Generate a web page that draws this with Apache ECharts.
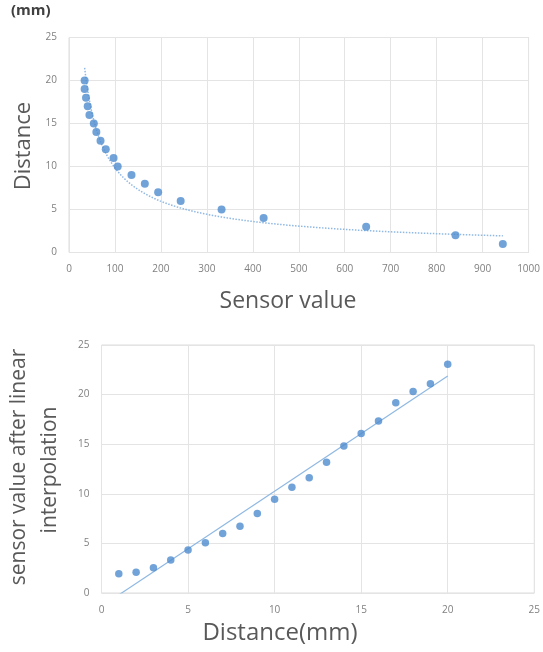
<!DOCTYPE html>
<html>
<head>
<meta charset="utf-8">
<script src="https://cdn.jsdelivr.net/npm/echarts@6/dist/echarts.min.js"></script>
<style>
  html, body { margin: 0; padding: 0; background: #fff; }
  #chart { width: 543px; height: 652px; }
</style>
</head>
<body>
<div id="chart"></div>
<script>
// Calibration: raw sensor readings versus measured distance (mm)
const sensorValues = [34, 34, 37, 40.7, 44.5, 54, 59.5, 68.6, 80, 97, 106, 136, 165, 194, 243, 332, 423.5, 646.6, 841, 944];
const distancesMm = [20, 19, 18, 17, 16, 15, 14, 13, 12, 11, 10, 9, 8, 7, 6, 5, 4, 3, 2, 1];

// After linear interpolation: distance (mm) versus corrected sensor value
const interpDistances = [1, 2, 3, 4, 5, 6, 7, 8, 9, 10, 11, 12, 13, 14, 15, 16, 17, 18, 19, 20];
const interpValues = [1.95, 2.08, 2.55, 3.32, 4.33, 5.07, 6.0, 6.74, 8.02, 9.46, 10.67, 11.61, 13.19, 14.83, 16.07, 17.35, 19.19, 20.3, 21.1, 23.05];

const topXTicks = [0, 100, 200, 300, 400, 500, 600, 700, 800, 900, 1000];
const topYTicks = [0, 5, 10, 15, 20, 25];
const bottomXTicks = [0, 5, 10, 15, 20, 25];
const bottomYTicks = [0, 5, 10, 15, 20, 25];

// Least-squares fits used for the trendlines
function linearFit(xs, ys) {
  const n = xs.length;
  const mx = xs.reduce((a, b) => a + b, 0) / n;
  const my = ys.reduce((a, b) => a + b, 0) / n;
  let sxy = 0, sxx = 0;
  for (let i = 0; i < n; i++) {
    sxy += (xs[i] - mx) * (ys[i] - my);
    sxx += (xs[i] - mx) * (xs[i] - mx);
  }
  const slope = sxy / sxx;
  return { slope, intercept: my - slope * mx };
}
function powerFit(xs, ys) {
  const f = linearFit(xs.map(Math.log), ys.map(Math.log));
  return { a: Math.exp(f.intercept), b: f.slope };
}

const pf = powerFit(sensorValues, distancesMm);
const xMin = Math.min(...sensorValues), xMax = Math.max(...sensorValues);
const powerTrend = [];
for (let i = 0; i <= 300; i++) {
  const x = xMin + (xMax - xMin) * i / 300;
  powerTrend.push([x, pf.a * Math.pow(x, pf.b)]);
}

const lf = linearFit(interpDistances, interpValues);
const d0 = interpDistances[0], d1 = interpDistances[interpDistances.length - 1];
const linearTrend = [[d0, lf.intercept + lf.slope * d0], [d1, lf.intercept + lf.slope * d1]];

const FONT = 'Open Sans';
const tickLabel = { color: '#808080', fontSize: 10, fontFamily: FONT, formatter: v => String(v) };
const gridLine = { show: true, lineStyle: { color: '#e4e4e4', width: 1 } };

function valueAxis(gridIndex, ticks, margin) {
  return {
    type: 'value', gridIndex,
    min: ticks[0], max: ticks[ticks.length - 1], interval: ticks[1] - ticks[0],
    axisLine: { show: false }, axisTick: { show: false },
    axisLabel: Object.assign({}, tickLabel, { margin }),
    splitLine: gridLine
  };
}

const chart = echarts.init(document.getElementById('chart'), null, { renderer: 'canvas' });
chart.setOption({
  animation: false,
  backgroundColor: '#ffffff',
  grid: [
    { left: 69, top: 37.5, width: 460, height: 215, show: true, borderColor: '#dcdcdc', borderWidth: 1 },
    { left: 101.5, top: 345, width: 439, height: 248, show: true, borderColor: '#dcdcdc', borderWidth: 1 }
  ],
  xAxis: [valueAxis(0, topXTicks, 12), valueAxis(1, bottomXTicks, 12)],
  yAxis: [valueAxis(0, topYTicks, 12), valueAxis(1, bottomYTicks, 12)],
  series: [
    {
      type: 'line', xAxisIndex: 0, yAxisIndex: 0, data: powerTrend,
      showSymbol: false, clip: true,
      lineStyle: { color: '#8fb8e3', width: 1.5, type: [1.5, 1.5] }, z: 1
    },
    {
      type: 'scatter', xAxisIndex: 0, yAxisIndex: 0,
      data: sensorValues.map((x, i) => [x, distancesMm[i]]),
      symbolSize: 8, itemStyle: { color: '#4f8cce' }, z: 2
    },
    {
      type: 'line', xAxisIndex: 1, yAxisIndex: 1, data: linearTrend,
      showSymbol: false, clip: true,
      lineStyle: { color: '#8fb8e3', width: 1.2 }, z: 1
    },
    {
      type: 'scatter', xAxisIndex: 1, yAxisIndex: 1,
      data: interpDistances.map((x, i) => [x, interpValues[i]]),
      symbolSize: 7.5, itemStyle: { color: '#4f8cce' }, z: 2
    }
  ],
  graphic: [
    { type: 'text', left: 11, top: 3,
      style: { text: '(mm)', fontSize: 15, fontWeight: 'bold', fontFamily: FONT, fill: '#404040' } },
    { type: 'text', x: 24, y: 146, rotation: Math.PI / 2,
      style: { text: 'Distance', fontSize: 22, fontFamily: FONT, fill: '#595959', align: 'center', verticalAlign: 'middle' } },
    { type: 'text', x: 288, y: 301,
      style: { text: 'Sensor value', fontSize: 23, fontFamily: FONT, fill: '#595959', align: 'center', verticalAlign: 'middle' } },
    { type: 'text', x: 19, y: 467, rotation: Math.PI / 2,
      style: { text: 'sensor value after linear', fontSize: 21, fontFamily: FONT, fill: '#595959', align: 'center', verticalAlign: 'middle' } },
    { type: 'text', x: 50, y: 470, rotation: Math.PI / 2,
      style: { text: 'interpolation', fontSize: 21, fontFamily: FONT, fill: '#595959', align: 'center', verticalAlign: 'middle' } },
    { type: 'text', x: 280, y: 633,
      style: { text: 'Distance(mm)', fontSize: 24, fontFamily: FONT, fill: '#595959', align: 'center', verticalAlign: 'middle' } }
  ]
});
</script>
</body>
</html>
